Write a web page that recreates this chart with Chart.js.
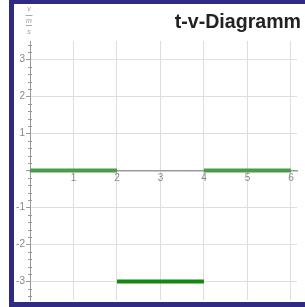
<!DOCTYPE html>
<html>
<head>
<meta charset="utf-8">
<script src="https://cdn.jsdelivr.net/npm/chart.js@4"></script>
<style>
  html, body { margin: 0; padding: 0; background: #fff; }
  #wrap { width: 305px; height: 307px; }
</style>
</head>
<body>
<div id="wrap"><canvas id="tvChart" width="305" height="307"></canvas></div>
<script>
// t-v-Diagramm: velocity in m/s over time in s, piecewise constant
const segStart = [0, 2, 4];
const segEnd = [2, 4, 6];
const velocity = [0, -3, 0];
const segColors = ['#4c9a4c', '#128a12', '#4c9a4c'];

const xTicks = [1, 2, 3, 4, 5, 6];
const yTicks = [-3, -2, -1, 1, 2, 3];

const datasets = segStart.map((t0, i) => ({
    label: 'v' + (i + 1),
    data: [{ x: t0, y: velocity[i] }, { x: segEnd[i], y: velocity[i] }],
    borderColor: segColors[i],
    borderWidth: 4,
    borderCapStyle: 'butt',
    pointRadius: 0,
    fill: false
}));

// frame, title, unit label and small ticks on the v axis
const decorPlugin = {
    id: 'decor',
    beforeDraw(chart) {
        const ctx = chart.ctx;
        ctx.save();
        ctx.fillStyle = '#fff';
        ctx.fillRect(0, 0, chart.width, chart.height);
        ctx.restore();
    },
    afterDraw(chart) {
        const ctx = chart.ctx;
        const yScale = chart.scales.y;
        const x0 = chart.scales.x.getPixelForValue(0);
        ctx.save();

        // minor ticks on the v axis
        ctx.strokeStyle = '#999';
        ctx.lineWidth = 1;
        for (let k = -17; k <= 17; k++) {
            if (k % 5 === 0) continue;
            const py = Math.round(yScale.getPixelForValue(k / 5)) + 0.5;
            ctx.beginPath();
            ctx.moveTo(x0 - 2, py);
            ctx.lineTo(x0 + 2, py);
            ctx.stroke();
        }

        // title
        ctx.fillStyle = '#222';
        ctx.font = 'bold 19.6px "Liberation Sans", Arial, sans-serif';
        ctx.textAlign = 'right';
        ctx.textBaseline = 'alphabetic';
        ctx.fillText('t-v-Diagramm', chart.width - 4, 28);

        // unit label v / (m/s)
        ctx.fillStyle = '#999';
        ctx.strokeStyle = '#aaa';
        ctx.font = 'italic 7px "Liberation Sans", Arial, sans-serif';
        ctx.textAlign = 'center';
        ctx.textBaseline = 'middle';
        ctx.fillText('v', 29, 9);
        ctx.fillText('m', 29, 21);
        ctx.fillText('s', 29, 32);
        ctx.beginPath();
        ctx.moveTo(25.5, 15.5); ctx.lineTo(32.5, 15.5);
        ctx.moveTo(26, 25.5); ctx.lineTo(32, 25.5);
        ctx.stroke();

        // frame
        ctx.fillStyle = '#2f2b84';
        ctx.fillRect(9, 0, chart.width - 9, 4);
        ctx.fillRect(9, 0, 5, chart.height);
        ctx.fillRect(9, chart.height - 5, chart.width - 9, 5);
        ctx.restore();
    }
};

new Chart(document.getElementById('tvChart'), {
    type: 'line',
    data: { datasets: datasets },
    options: {
        responsive: false,
        animation: false,
        layout: { padding: { left: 0, right: 8, top: 41, bottom: 7 } },
        plugins: {
            legend: { display: false },
            title: { display: false },
            tooltip: { enabled: false }
        },
        scales: {
            x: {
                type: 'linear',
                min: 0,
                max: 6.14,
                position: { y: 0 },
                afterBuildTicks: (scale) => { scale.ticks = [0].concat(xTicks).map(v => ({ value: v })); },
                ticks: {
                    callback: (v) => (v === 0 ? '' : String(v)),
                    color: '#888',
                    font: { size: 10, family: '"Liberation Sans", Arial, sans-serif' },
                    padding: 2,
                    maxRotation: 0
                },
                grid: { color: '#dedede', drawTicks: false },
                border: { color: '#999', width: 1.5 }
            },
            y: {
                type: 'linear',
                min: -3.5,
                max: 3.5,
                afterFit: (scale) => { scale.width = 30; },
                afterBuildTicks: (scale) => { scale.ticks = [0].concat(yTicks).map(v => ({ value: v })); },
                ticks: {
                    callback: (v) => (v === 0 ? '' : String(v)),
                    color: '#888',
                    font: { size: 10, family: '"Liberation Sans", Arial, sans-serif' },
                    padding: 1
                },
                grid: { color: '#dedede', tickLength: 4, tickColor: '#999' },
                border: { color: '#999', width: 1 }
            }
        }
    },
    plugins: [decorPlugin]
});
</script>
</body>
</html>
